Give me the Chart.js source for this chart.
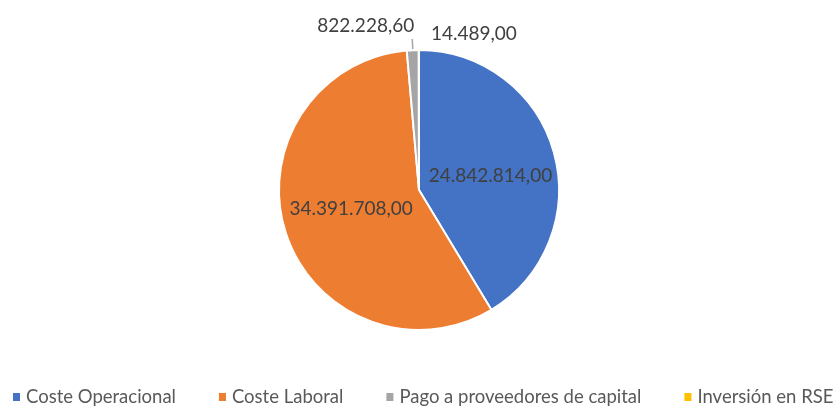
<!doctype html>
<html lang="es">
<head>
<meta charset="utf-8">
<script src="https://cdn.jsdelivr.net/npm/chart.js@4/dist/chart.umd.min.js"></script>
<style>
  html, body { margin: 0; padding: 0; background: #fff; }
  #wrap { width: 838px; height: 406px; }
</style>
</head>
<body>
<div id="wrap"><canvas id="chart" width="838" height="406"></canvas></div>
<script>
// datos del gráfico
var categorias = ['Coste Operacional', 'Coste Laboral', 'Pago a proveedores de capital', 'Inversión en RSE'];
var valores = [24842814.00, 34391708.00, 822228.60, 14489.00];
var colores = ['#4472C4', '#ED7D31', '#A5A5A5', '#FFC000'];

// dónde va cada etiqueta: fracción del radio, alineación y desplazamiento
var posEtiquetas = [
  { r: 0.50, align: 'center', dx: 4, dy: 5 },
  { r: 0.60, align: 'center', dx: 12, dy: -7 },
  { r: 1.08, align: 'right', dx: 2, dy: -13, linea: true },
  { r: 1.12, align: 'left', dx: 12, dy: 1 }
];

function formato(v) {
  return v.toLocaleString('es-ES', { minimumFractionDigits: 2, maximumFractionDigits: 2, useGrouping: 'always' });
}

var etiquetas = {
  id: 'etiquetas',
  afterDatasetsDraw: function(chart) {
    var ctx = chart.ctx;
    var arcs = chart.getDatasetMeta(0).data;
    ctx.save();
    ctx.font = '19px Lato';
    ctx.fillStyle = '#404040';
    ctx.textBaseline = 'middle';
    arcs.forEach(function(arc, i) {
      var p = arc.getProps(['x', 'y', 'startAngle', 'endAngle', 'outerRadius'], true);
      var a = (p.startAngle + p.endAngle) / 2;
      var cfg = posEtiquetas[i];
      var x = p.x + Math.cos(a) * p.outerRadius * cfg.r;
      var y = p.y + Math.sin(a) * p.outerRadius * cfg.r;
      if (cfg.linea) {
        ctx.strokeStyle = '#A6A6A6';
        ctx.lineWidth = 1.5;
        ctx.beginPath();
        ctx.moveTo(p.x + Math.cos(a) * (p.outerRadius + 1), p.y + Math.sin(a) * (p.outerRadius + 1));
        ctx.lineTo(x, y);
        ctx.stroke();
      }
      ctx.textAlign = cfg.align;
      ctx.fillText(formato(valores[i]), x + cfg.dx, y + cfg.dy);
    });
    ctx.restore();
  }
};

// leyenda en una sola línea, como en el original (se corta por la derecha)
var leyenda = {
  id: 'leyenda',
  afterDraw: function(chart) {
    var ctx = chart.ctx;
    var x = 13, y = 397;
    ctx.save();
    ctx.font = '18.5px Lato';
    ctx.textBaseline = 'middle';
    ctx.textAlign = 'left';
    categorias.forEach(function(cat, i) {
      ctx.fillStyle = colores[i];
      ctx.fillRect(x, y - 4, 7, 8);
      ctx.fillStyle = '#595959';
      ctx.fillText(cat, x + 13, y);
      x += 13 + ctx.measureText(cat).width + 43;
    });
    ctx.restore();
  }
};

new Chart(document.getElementById('chart'), {
  type: 'pie',
  data: {
    labels: categorias,
    datasets: [{
      data: valores,
      backgroundColor: colores,
      borderColor: '#ffffff',
      borderWidth: 2
    }]
  },
  options: {
    responsive: false,
    animation: false,
    layout: { padding: { top: 49, bottom: 75, left: 0, right: 0 } },
    plugins: {
      tooltip: { enabled: false },
      legend: { display: false }
    }
  },
  plugins: [etiquetas, leyenda]
});
</script>
</body>
</html>
